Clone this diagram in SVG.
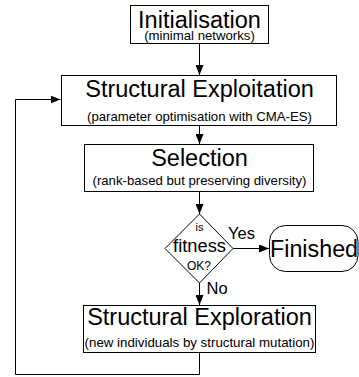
<svg xmlns="http://www.w3.org/2000/svg" width="359" height="377" viewBox="0 0 359 377">
<style>
.box{fill:#fff;stroke:#000;stroke-width:1}
.edge{fill:none;stroke:#000;stroke-width:1}
text{font-family:"Liberation Sans",Arial,sans-serif;fill:#000}
.t{font-size:23.5px;text-anchor:middle}
.s{font-size:13.2px;text-anchor:middle}
.l{font-size:16.5px}
</style>
<defs>
<marker id="ah" viewBox="0 0 10 8" refX="10" refY="4" markerWidth="10" markerHeight="8" markerUnits="userSpaceOnUse" orient="auto">
<path d="M0,0 L10,4 L0,8 z" fill="#000"/>
</marker>
</defs>
<rect width="359" height="377" fill="#fff"/>
<g id="connectors">
<path class="edge" d="M199.5,43.5 V75" marker-end="url(#ah)"/>
<path class="edge" d="M199.5,125.5 V144" marker-end="url(#ah)"/>
<path class="edge" d="M199.5,191.5 V214" marker-end="url(#ah)"/>
<path class="edge" d="M233,248.5 H269" marker-end="url(#ah)"/>
<path class="edge" d="M199.5,283 V305" marker-end="url(#ah)"/>
<path class="edge" d="M199.5,352.5 V374.5 H15.5 V99.5 H60.5" marker-end="url(#ah)"/>
<text class="l" x="228" y="238.5">Yes</text>
<text class="l" x="206.5" y="293.5">No</text>
</g>
<g id="init">
<rect class="box" x="130.5" y="5.5" width="138" height="38"/>
<text class="t" x="199.5" y="28">Initialisation</text>
<text class="s" x="199.5" y="40">(minimal networks)</text>
</g>
<g id="exploitation">
<rect class="box" x="61.5" y="75.5" width="275" height="50"/>
<text class="t" x="199.5" y="97">Structural Exploitation</text>
<text class="s" x="199.5" y="121">(parameter optimisation with CMA-ES)</text>
</g>
<g id="selection">
<rect class="box" x="84.5" y="144.5" width="229" height="47"/>
<text class="t" x="199.5" y="166">Selection</text>
<text class="s" x="199.5" y="185">(rank-based but preserving diversity)</text>
</g>
<g id="decision">
<path class="box" d="M199.5,214 L233,248.5 L199.5,283 L165,248.5 z"/>
<text x="199.5" y="231" font-size="11" text-anchor="middle">is</text>
<text x="199.5" y="252" font-size="18.3" text-anchor="middle">fitness</text>
<text x="199" y="270" font-size="12" text-anchor="middle">OK?</text>
</g>
<g id="finished">
<rect class="box" x="269.5" y="225.5" width="88.5" height="46" rx="16" ry="16"/>
<text x="270" y="257" font-size="23.3">Finished</text>
</g>
<g id="exploration">
<rect class="box" x="83.5" y="305.5" width="232" height="47"/>
<text class="t" x="199.5" y="325">Structural Exploration</text>
<text x="199.5" y="347" font-size="13.3" text-anchor="middle">(new individuals by structural mutation)</text>
</g>
</svg>
